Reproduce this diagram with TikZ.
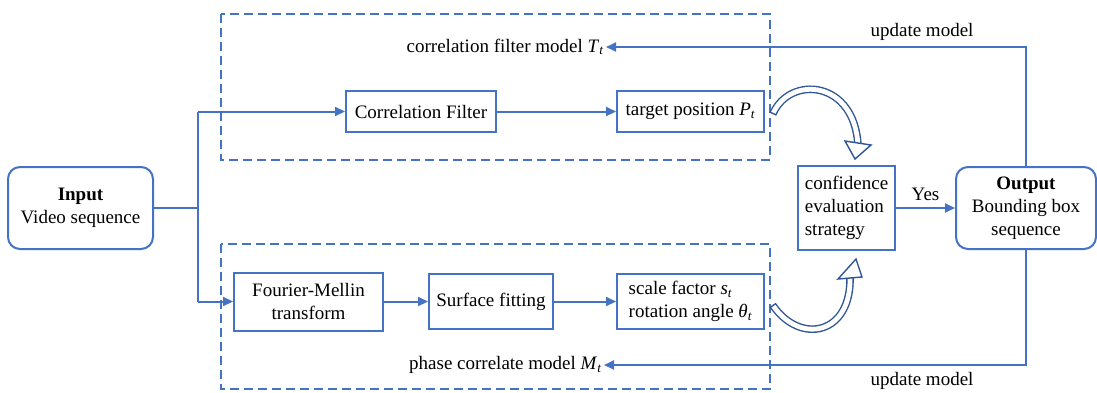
\documentclass[tikz,border=0pt]{standalone}
\usepackage{fontspec}
\setmainfont{Liberation Serif}
\usetikzlibrary{arrows.meta}
\definecolor{flowblue}{RGB}{68,114,196}
\definecolor{deepblue}{RGB}{47,85,151}
\newcommand\isub[2]{\textit{#1}\textsubscript{\textit{#2}}}

\begin{document}
\begin{tikzpicture}[x=1pt,y=-1pt, font=\fontsize{19}{23}\selectfont,
  box/.style={draw=flowblue, line width=2pt, inner sep=0pt, align=center},
  rbox/.style={box, rounded corners=12pt},
  frame/.style={draw=flowblue, line width=2pt, dash pattern=on 9pt off 5pt},
  link/.style={draw=flowblue, line width=2pt},
  arr/.style={link, -{Triangle[length=10pt,width=9pt]}},
  hollow/.style={draw=deepblue, line width=1.4pt, double=white, double distance=4.8pt},
  hhead/.style={draw=deepblue, line width=1.4pt, fill=white, line join=miter},
  tailcap/.style={draw=deepblue, line width=1.4pt},
  lbl/.style={inner sep=2pt}]
\useasboundingbox (0,0) rectangle (1097,392);

% dashed groups
\draw[frame] (221,14) rectangle (770,160);
\draw[frame] (221,244) rectangle (770,389);

% blocks
\node[rbox, minimum width=145pt, minimum height=82pt] (in) at (80.5,208) {\textbf{Input}\\Video sequence};
\node[box, minimum width=150pt, minimum height=41pt] (cf) at (421,111.5) {Correlation Filter};
\node[box, minimum width=147pt, minimum height=41pt] (tp) at (690.5,111.5) {target position \isub{P}{t}};
\node[box, minimum width=149pt, minimum height=58pt] (fm) at (308.5,301.5) {Fourier-Mellin\\transform};
\node[box, minimum width=124pt, minimum height=55pt] (sf) at (491,301.5) {Surface fitting};
\node[box, minimum width=147pt, minimum height=55pt, align=left] (sc) at (690.5,301.5) {scale factor \isub{s}{t}\\rotation angle \isub{θ}{t}};
\node[box, minimum width=97pt, minimum height=84pt, align=left] (ce) at (846.5,208) {confidence\\evaluation\\strategy};
\node[rbox, minimum width=140pt, minimum height=82pt] (out) at (1026,208) {\textbf{Output}\\Bounding box\\sequence};

% model labels
\node[lbl, anchor=east] (tl) at (606,47) {correlation filter model~\isub{T}{t}};
\node[lbl, anchor=east] (ml) at (604,365) {phase correlate model~\isub{M}{t}};
\node (u1) at (922,32) {update model};
\node (u2) at (922,381) {update model};

% input split
\coordinate (jt) at (198,111.5);
\coordinate (jb) at (198,301.5);
\draw[link] (in.east) -- (in.east -| jt);
\draw[link] (jt) -- (jb);
\draw[arr] (jt) -- (cf.west);
\draw[arr] (jb) -- (fm.west);
\draw[arr] (cf) -- (tp);
\draw[arr] (fm) -- (sf);
\draw[arr] (sf) -- (sc);
\draw[arr] (ce) -- (out) node[midway, above=3pt] (yes) {Yes};

% feedback
\draw[arr] (out.north) |- (tl.east);
\draw[arr] (out.south) |- (ml.east);

% hollow curved arrows into the evaluation block
\coordinate (a1) at ([shift={(8,2)}]tp.east);
\coordinate (a2) at ([shift={(8,4)}]sc.east);
\draw[hollow] (a1) .. controls (790,75) and (855,80) .. (858,146);
\draw[tailcap] ([shift={(3.3,1.5)}]a1) -- ([shift={(-3.3,-1.5)}]a1);
\draw[hhead] (845,141) -- (871,145) -- (855,159) -- cycle;
\draw[hollow] (a2) .. controls (800,345) and (852,335) .. (850,276);
\draw[tailcap] ([shift={(3.0,-2.1)}]a2) -- ([shift={(-3.0,2.1)}]a2);
\draw[hhead] (838,279) -- (862,277) -- (856,259) -- cycle;
\end{tikzpicture}
\end{document}
